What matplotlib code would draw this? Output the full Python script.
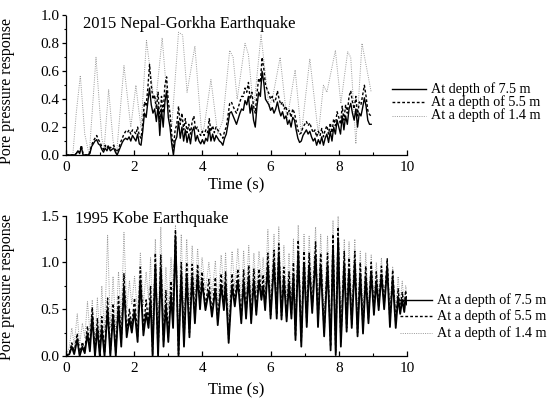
import numpy as np
import matplotlib
matplotlib.use("Agg")
import matplotlib.pyplot as plt
from matplotlib.lines import Line2D
from matplotlib.ticker import MultipleLocator

plt.rcParams['font.family'] = ['Liberation Serif', 'DejaVu Serif']

# ---------------- 2015 Nepal-Gorkha (sampled every 0.05 s) ----------------
nepal_dt = 0.05
nepal_75 = [0, 0, 0, 0, 0, 0, .01, .03, .01, .06, 0, 0, 0, 0, .01, .06, .08, .1, .11, .08,
            .07, .04, .02, .05, .03, .06, .03, .04, .05, .02, 0, .03, .06, .09, .11, .12, .11, .13, .1, .14,
            .12, .1, .15, .08, .07, .17, .3, .27, .38, .48, .36, .3, .33, .24, .35, .14, .33, .2, .38, .46,
            .27, .2, .08, 0, .1, .13, .24, .12, .2, .1, .18, .09, .15, .08, .17, .2, .1, .14, .1, .08,
            .11, .08, .12, .1, .19, .1, .15, .1, .14, .12, .1, .09, .07, .12, .15, .22, .3, .31, .28, .25,
            .22, .26, .3, .33, .32, .39, .36, .42, .3, .36, .25, .2, .35, .45, .42, .6, .52, .4, .38, .36,
            .32, .34, .3, .33, .38, .32, .28, .31, .26, .28, .22, .25, .2, .27, .25, .18, .12, .09, .1, .14,
            .16, .18, .15, .17, .13, .1, .12, .07, .11, .08, .13, .07, .12, .15, .09, .17, .1, .2, .15, .25,
            .2, .15, .28, .18, .28, .22, .33, .37, .3, .25, .33, .2, .3, .28, .34, .41, .35, .25, .22, .22]
nepal_55 = [0, 0, 0, 0, 0, 0, .01, .03, .02, .07, .01, 0, 0, 0, .02, .07, .1, .12, .14, .11,
            .09, .06, .04, .07, .05, .07, .05, .06, .07, .04, .02, .05, .09, .12, .15, .17, .16, .18, .15, .18,
            .17, .15, .2, .14, .12, .22, .38, .35, .48, .65, .5, .4, .43, .33, .45, .24, .42, .3, .5, .56,
            .38, .3, .15, .05, .18, .22, .35, .22, .3, .18, .26, .16, .22, .15, .24, .28, .18, .2, .16, .14,
            .17, .14, .18, .16, .26, .17, .21, .16, .2, .18, .16, .14, .12, .17, .2, .28, .37, .38, .35, .32,
            .3, .34, .38, .42, .42, .48, .45, .52, .4, .45, .35, .3, .44, .55, .52, .7, .62, .5, .47, .44,
            .4, .42, .38, .4, .46, .4, .36, .38, .33, .35, .29, .32, .27, .33, .3, .24, .18, .15, .16, .2,
            .22, .24, .21, .23, .19, .16, .18, .13, .17, .14, .19, .13, .18, .21, .15, .23, .16, .26, .21, .31,
            .27, .22, .35, .25, .36, .3, .42, .46, .38, .33, .42, .28, .38, .36, .43, .5, .42, .32, .29, .28]
nepal_14_t = [0, 0.2, 0.3, 0.42, 0.55, 0.68, 0.88, 1.05, 1.12, 1.25,
              1.38, 1.48, 1.7, 1.9, 2.05, 2.12, 2.2, 2.36, 2.55, 2.62,
              2.82, 3.0, 3.1, 3.3, 3.42, 3.55, 3.78, 3.98, 4.05, 4.25,
              4.45, 4.6, 4.8, 4.9, 5.02, 5.25, 5.35, 5.5, 5.72, 5.95,
              6.05, 6.28, 6.48, 6.72, 6.9, 7.15, 7.4, 7.55, 7.65, 7.9,
              8.06, 8.26, 8.35, 8.5, 8.68, 8.95]
nepal_14 = [0, 0, 0.3, 0.57, 0.15, 0.0, 0.7, 0.12, 0.05, 0.47,
            0.1, 0.0, 0.64, 0.2, 0.5, 0.35, 0.2, 0.82, 0.45, 0.35,
            0.84, 0.3, 0.2, 0.88, 0.86, 0.45, 0.78, 0.15, 0.2, 0.54,
            0.15, 0.25, 0.75, 0.7, 0.4, 0.8, 0.72, 0.32, 0.86, 0.35,
            0.4, 0.7, 0.25, 0.61, 0.15, 0.69, 0.15, 0.5, 0.45, 0.75,
            0.37, 0.74, 0.7, 0.08, 0.8, 0.45]

# ---------------- 1995 Kobe (peaks / troughs) ----------------
kobe_t = [0.00, 0.10, 0.17, 0.24, 0.33, 0.40, 0.48, 0.55, 0.63, 0.70,
          0.77, 0.85, 0.92, 0.99, 1.05, 1.13, 1.22, 1.30, 1.38, 1.46,
          1.54, 1.62, 1.70, 1.78, 1.86, 1.93, 2.01, 2.10, 2.18, 2.27,
          2.35, 2.42, 2.48, 2.54, 2.62, 2.70, 2.78, 2.86, 2.93, 3.00,
          3.08, 3.14, 3.21, 3.30, 3.38, 3.46, 3.54, 3.62, 3.70, 3.78,
          3.86, 3.93, 3.99, 4.09, 4.19, 4.28, 4.38, 4.45, 4.55, 4.63,
          4.68, 4.77, 4.87, 4.95, 5.04, 5.14, 5.21, 5.28, 5.36, 5.43,
          5.51, 5.58, 5.66, 5.73, 5.78, 5.84, 5.92, 6.00, 6.10, 6.18,
          6.24, 6.32, 6.39, 6.47, 6.54, 6.61, 6.67, 6.73, 6.81, 6.90,
          6.98, 7.06, 7.13, 7.22, 7.32, 7.39, 7.47, 7.57, 7.67, 7.76,
          7.83, 7.91, 7.98, 8.06, 8.16, 8.23, 8.30, 8.38, 8.47, 8.55,
          8.63, 8.71, 8.79, 8.87, 8.95, 9.03, 9.10, 9.17, 9.25, 9.33,
          9.42, 9.50, 9.58, 9.67, 9.74, 9.80, 9.86, 9.92, 9.96, 10.00]
kobe_75 = [0.00, 0.02, 0.10, 0.02, 0.18, 0.00, 0.10, 0.03, 0.24, 0.05,
           0.42, 0.00, 0.30, 0.00, 0.30, 0.00, 0.50, 0.00, 0.44, 0.00,
           0.53, 0.10, 0.74, 0.20, 0.40, 0.25, 0.49, 0.15, 0.81, 0.22,
           0.46, 0.30, 0.60, 0.00, 0.97, 0.00, 0.94, 0.10, 0.55, 0.15,
           0.65, 0.30, 1.28, 0.00, 0.88, 0.10, 0.87, 0.20, 0.85, 0.35,
           0.87, 0.50, 0.80, 0.49, 0.70, 0.42, 0.72, 0.33, 0.76, 0.49,
           0.78, 0.14, 0.76, 0.53, 0.81, 0.35, 0.80, 0.40, 0.85, 0.35,
           0.81, 0.44, 0.81, 0.60, 0.75, 0.49, 0.97, 0.40, 1.00, 0.40,
           1.08, 0.39, 0.83, 0.37, 0.78, 0.40, 0.87, 0.17, 1.10, 0.10,
           0.99, 0.31, 0.97, 0.46, 1.08, 0.31, 0.97, 0.21, 0.97, 0.06,
           1.15, 0.01, 1.24, 0.10, 0.99, 0.26, 0.92, 0.30, 1.00, 0.21,
           0.88, 0.24, 0.85, 0.35, 0.90, 0.44, 0.80, 0.49, 0.87, 0.50,
           0.95, 0.31, 0.83, 0.30, 0.63, 0.45, 0.60, 0.47, 0.62, 0.55]
kobe_55 = [0.00, 0.03, 0.14, 0.04, 0.24, 0.02, 0.15, 0.06, 0.32, 0.10,
           0.52, 0.03, 0.40, 0.03, 0.42, 0.03, 0.62, 0.03, 0.56, 0.03,
           0.65, 0.15, 0.88, 0.25, 0.50, 0.32, 0.62, 0.20, 0.95, 0.28,
           0.60, 0.35, 0.75, 0.02, 1.10, 0.02, 1.08, 0.15, 0.70, 0.20,
           0.80, 0.35, 1.35, 0.02, 1.00, 0.15, 1.00, 0.25, 0.98, 0.40,
           0.98, 0.55, 0.90, 0.53, 0.82, 0.46, 0.84, 0.37, 0.88, 0.53,
           0.90, 0.18, 0.88, 0.57, 0.93, 0.39, 0.92, 0.44, 0.97, 0.39,
           0.93, 0.48, 0.93, 0.64, 0.87, 0.53, 1.10, 0.44, 1.13, 0.44,
           1.20, 0.43, 0.95, 0.41, 0.90, 0.44, 1.00, 0.21, 1.24, 0.14,
           1.12, 0.35, 1.10, 0.50, 1.22, 0.35, 1.10, 0.25, 1.10, 0.10,
           1.30, 0.04, 1.38, 0.14, 1.12, 0.30, 1.05, 0.34, 1.12, 0.25,
           1.00, 0.28, 0.96, 0.39, 1.00, 0.48, 0.90, 0.52, 0.96, 0.54,
           1.04, 0.36, 0.92, 0.35, 0.72, 0.48, 0.68, 0.50, 0.70, 0.56]
kobe_14 = [0.00, 0.10, 0.30, 0.12, 0.45, 0.12, 0.35, 0.20, 0.58, 0.25,
           0.60, 0.15, 0.62, 0.20, 0.75, 0.25, 1.29, 0.30, 0.85, 0.28,
           0.90, 0.40, 1.32, 0.50, 0.80, 0.55, 0.85, 0.45, 1.10, 0.55,
           0.90, 0.60, 1.05, 0.30, 1.25, 0.30, 1.38, 0.40, 0.95, 0.50,
           1.05, 0.60, 1.40, 0.30, 1.30, 0.40, 1.25, 0.55, 1.18, 0.65,
           1.15, 0.75, 1.05, 0.70, 1.00, 0.65, 1.02, 0.55, 1.08, 0.70,
           1.10, 0.40, 1.12, 0.72, 1.15, 0.60, 1.12, 0.65, 1.18, 0.60,
           1.10, 0.68, 1.12, 0.80, 1.05, 0.70, 1.35, 0.62, 1.30, 0.65,
           1.38, 0.62, 1.18, 0.60, 1.10, 0.62, 1.25, 0.40, 1.40, 0.35,
           1.30, 0.55, 1.28, 0.70, 1.38, 0.55, 1.30, 0.45, 1.28, 0.30,
           1.45, 0.25, 1.50, 0.35, 1.25, 0.50, 1.22, 0.55, 1.25, 0.45,
           1.12, 0.48, 1.10, 0.55, 1.08, 0.62, 1.00, 0.65, 1.05, 0.65,
           1.02, 0.52, 0.95, 0.50, 0.85, 0.58, 0.80, 0.55, 0.75, 0.70]

labels_top = ["At depth of 7.5 m", "At a depth of 5.5 m", "At a depth of 1.4 m"]
labels_bot = ["At a depth of 7.5 m", "At a depth of 5.5 m", "At a depth of 1.4 m"]

W, H = 548, 399
fig = plt.figure(figsize=(W / 100, H / 100), dpi=100)

def px_axes(x0, x1, ytop, ybot):
    return fig.add_axes([x0 / W, 1 - ybot / H, (x1 - x0) / W, (ybot - ytop) / H])

style_75 = dict(color='black', lw=1.0, ls='-')
style_55 = dict(color='black', lw=1.0, ls=(0, (2.0, 1.5)))
style_14 = dict(color='#999999', lw=0.7, ls=(0, (1.0, 1.3)))

ax1 = px_axes(66, 407, 15.5, 155)
ax2 = px_axes(66, 407, 215.7, 356)

nepal_t = np.arange(len(nepal_75)) * nepal_dt
ax1.plot(nepal_14_t, nepal_14, **style_14)
ax1.plot(nepal_t, nepal_55, **style_55)
ax1.plot(nepal_t, nepal_75, **style_75)

ax2.plot(kobe_t, kobe_14, **style_14)
ax2.plot(kobe_t, kobe_55, **style_55)
ax2.plot(kobe_t, kobe_75, **dict(style_75, lw=1.3))

for ax, ymax, ystep, yminor in [(ax1, 1.0, 0.2, 0.1), (ax2, 1.5, 0.5, 0.25)]:
    ax.set_xlim(0, 10)
    ax.set_ylim(0, ymax)
    ax.xaxis.set_major_locator(MultipleLocator(2))
    ax.xaxis.set_minor_locator(MultipleLocator(1))
    ax.yaxis.set_major_locator(MultipleLocator(ystep))
    ax.yaxis.set_minor_locator(MultipleLocator(yminor))
    ax.yaxis.set_major_formatter(matplotlib.ticker.FormatStrFormatter('%.1f'))
    for s in ['top', 'right']:
        ax.spines[s].set_visible(False)
    for s in ['left', 'bottom']:
        ax.spines[s].set_linewidth(0.9)
    ax.tick_params(axis='x', which='major', direction='in', length=3.5, width=0.9, labelsize=11, pad=4)
    ax.tick_params(axis='x', which='minor', direction='in', length=2, width=0.8)
    ax.tick_params(axis='y', which='major', direction='out', length=3, width=0.9, labelsize=11, pad=1.5)
    ax.tick_params(axis='y', which='minor', direction='out', length=1.8, width=0.8)
    ax.set_ylabel("Pore pressure response", fontsize=11.5)
    ax.set_xlabel("Time (s)", fontsize=12, va='top')

ax1.yaxis.set_label_coords((15 - 66) / 341, (155 - 91) / 139.5)
ax2.yaxis.set_label_coords((15 - 66) / 341, (356 - 287) / 140.3)
ax1.xaxis.set_label_coords(0.5, (155 - 177) / 139.5)
ax2.xaxis.set_label_coords(0.5, (356 - 382) / 140.3)

ax1.text((83 - 66) / 341, (155 - 24) / 139.5, "2015 Nepal-Gorkha Earthquake",
         transform=ax1.transAxes, fontsize=12, va='center', ha='left')
ax2.text((75 - 66) / 341, (356 - 219) / 140.3, "1995 Kobe Earthquake",
         transform=ax2.transAxes, fontsize=12, va='center', ha='left')

def legend_rows(x0, x1, xt, ys, labels):
    for y, lab, st in zip(ys, labels, [style_75, style_55, style_14]):
        fig.add_artist(Line2D([x0 / W, x1 / W], [1 - y / H, 1 - y / H],
                              transform=fig.transFigure, **st))
        fig.text(xt / W, 1 - y / H, lab, fontsize=10.2, va='center', ha='left')

legend_rows(392, 426, 431, [89, 102, 115.5], labels_top)
legend_rows(400, 432, 437, [300, 316, 333], labels_bot)

fig.savefig("out.png", dpi=100)
